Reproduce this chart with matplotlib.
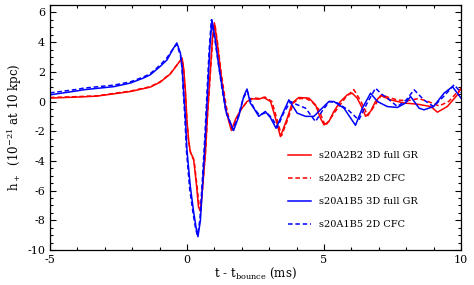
import numpy as np
import matplotlib
matplotlib.use('Agg')
import matplotlib.pyplot as plt
from matplotlib.ticker import MultipleLocator

plt.rcParams['font.family'] = 'DejaVu Serif'
plt.rcParams['mathtext.fontset'] = 'dejavuserif'
plt.rcParams['axes.unicode_minus'] = False

# s20A2B2 3D full GR (red solid)
t_a2b2_3d = [-5, -4, -3.3, -2.07, -1.34, -0.98, -0.61, -0.31, -0.18, -0.12, -0.06, 0, 0.06, 0.12,
             0.24, 0.34, 0.42, 0.49, 0.55, 0.67, 0.75, 0.85, 0.93, 1.0, 1.1, 1.22, 1.28, 1.4, 1.52,
             1.62, 1.77, 1.95, 2.19, 2.38, 2.62, 2.8, 3.05, 3.23, 3.41, 3.66, 3.84, 4.08, 4.45, 4.69,
             4.87, 5.0, 5.18, 5.36, 5.6, 5.85, 6.03, 6.21, 6.4, 6.52, 6.7, 6.88, 7.07, 7.43, 7.92,
             8.41, 8.9, 9.14, 9.5, 9.87, 10]
h_a2b2_3d = [0.23, 0.3, 0.36, 0.67, 0.97, 1.3, 1.85, 2.6, 2.93, 2.2, 0.8, -1.3, -2.6, -3.4,
             -3.85, -5.5, -7.1, -7.4, -6.2, -3.5, -0.8, 2.0, 4.3, 5.3, 4.0, 2.2, 1.24, -0.34, -1.3,
             -1.95, -1.2, -0.6, 0.0, 0.18, 0.16, 0.27, 0.0, -1.12, -2.36, -1.12, -0.1, 0.27, 0.23, -0.22,
             -1.12, -1.57, -1.35, -0.67, 0.0, 0.45, 0.56, 0.23, -0.45, -1.0, -0.67, 0.0, 0.4, 0.11, -0.1,
             -0.18, -0.34, -0.72, -0.34, 0.45, 0.9]

# s20A2B2 2D CFC (red dashed)
t_a2b2_2d = [-5, -4, -3.3, -2.07, -1.34, -0.98, -0.61, -0.31, -0.18, -0.12, -0.06, 0, 0.06, 0.14,
             0.26, 0.36, 0.44, 0.5, 0.56, 0.68, 0.76, 0.86, 0.94, 1.02, 1.12, 1.24, 1.3, 1.43, 1.55,
             1.65, 1.8, 1.98, 2.2, 2.4, 2.65, 2.85, 3.1, 3.27, 3.45, 3.7, 3.88, 4.1, 4.35, 4.55,
             4.8, 5.05, 5.4, 5.8, 6.09, 6.35, 6.6, 6.88, 7.1, 7.4, 7.7, 8.05, 8.45, 8.8, 9.2, 9.55,
             9.85, 10]
h_a2b2_2d = [0.27, 0.33, 0.38, 0.7, 1.0, 1.33, 1.88, 2.6, 2.85, 2.1, 0.6, -1.4, -2.7, -3.5,
             -4.0, -5.6, -7.0, -7.3, -6.0, -3.3, -0.6, 2.1, 4.3, 5.2, 3.9, 2.0, 1.3, -0.3, -1.3,
             -1.9, -1.2, -0.5, 0.0, 0.25, 0.2, 0.3, 0.0, -1.1, -2.3, -1.1, -0.1, 0.2, 0.2, 0.0,
             -0.5, -1.65, -0.7, 0.3, 0.8, 0.0, -0.95, -0.2, 0.45, 0.25, 0.1, 0.05, 0.2, 0.0, -0.3, 0.0,
             0.6, 0.85]

# s20A1B5 3D full GR (blue solid)
t_a1b5_3d = [-5, -4, -3.78, -2.68, -2.07, -1.59, -1.34, -0.98, -0.73, -0.49, -0.37, -0.24, -0.18,
             -0.12, -0.06, 0, 0.12, 0.24, 0.34, 0.4, 0.49, 0.58, 0.67, 0.75, 0.83, 0.91, 1.03, 1.16,
             1.28, 1.44, 1.7, 1.89, 2.07, 2.19, 2.31, 2.44, 2.62, 2.86, 3.05, 3.25, 3.47, 3.72, 4.02,
             4.33, 4.63, 4.87, 5.18, 5.36, 5.73, 6.15, 6.4, 6.7, 6.95, 7.31, 7.68, 7.98, 8.16, 8.47,
             8.65, 9.0, 9.38, 9.69, 10]
h_a1b5_3d = [0.45, 0.72, 0.79, 1.0, 1.24, 1.58, 1.8, 2.36, 2.8, 3.6, 3.94, 3.26, 2.36,
             0.6, -1.0, -3.3, -5.7, -7.4, -8.6, -9.1, -8.0, -5.3, -2.4, 0.6, 3.5, 5.5, 4.2, 2.4,
             1.0, -0.8, -1.95, -1.0, 0.34, 0.84, -0.1, -0.45, -1.0, -0.67, -1.1, -1.8, -0.9, 0.11, -0.78,
             -1.0, -1.0, -0.56, 0.0, 0.0, -0.45, -1.6, -0.45, 0.56, 0.0, -0.34, -0.4, -0.1, 0.34, -0.45,
             -0.56, -0.34, 0.56, 1.0, 0.23]

# s20A1B5 2D CFC (blue dashed)
t_a1b5_2d = [-5, -4, -3.78, -2.68, -2.07, -1.59, -1.34, -0.98, -0.73, -0.49, -0.37, -0.24, -0.18,
             -0.14, -0.08, -0.02, 0.1, 0.22, 0.32, 0.38, 0.47, 0.56, 0.65, 0.73, 0.81, 0.89, 1.0, 1.14,
             1.26, 1.42, 1.68, 1.87, 2.05, 2.2, 2.33, 2.46, 2.64, 2.9, 3.1, 3.3, 3.52, 3.78, 4.0,
             4.33, 4.69, 4.95, 5.2, 5.5, 5.9, 6.27, 6.55, 6.88, 7.1, 7.31, 7.68, 8.0, 8.29, 8.65,
             9.0, 9.4, 9.75, 10]
h_a1b5_2d = [0.58, 0.82, 0.9, 1.1, 1.32, 1.65, 1.88, 2.45, 2.95, 3.6, 3.85, 3.1, 2.2,
             0.8, -1.0, -3.3, -5.9, -7.5, -8.6, -9.0, -8.0, -5.3, -2.4, 0.6, 3.5, 5.5, 4.4, 2.6,
             1.1, -0.7, -1.9, -1.0, 0.2, 0.7, 0.0, -0.5, -0.9, -0.75, -1.1, -1.75, -0.8, 0.0, -0.2,
             -0.45, -1.35, -0.6, 0.0, -0.1, -0.6, -1.24, -0.2, 0.9, 0.5, 0.23, -0.34, 0.1, 0.79, 0.1,
             -0.34, 0.4, 1.13, 0.6]

labels = ['s20A2B2 3D full GR', 's20A2B2 2D CFC', 's20A1B5 3D full GR', 's20A1B5 2D CFC']

fig = plt.figure(figsize=(4.74, 2.85), dpi=100)
ax = fig.add_axes([0.1055, 0.1228, 0.867, 0.8597])

lw = 1.1
dash = (0, (3.0, 1.8))
ax.plot(t_a2b2_3d, h_a2b2_3d, color='#ff0000', lw=lw, label=labels[0])
ax.plot(t_a2b2_2d, h_a2b2_2d, color='#ff0000', lw=lw, ls=dash, label=labels[1])
ax.plot(t_a1b5_3d, h_a1b5_3d, color='#0000ff', lw=lw, label=labels[2])
ax.plot(t_a1b5_2d, h_a1b5_2d, color='#0000ff', lw=lw, ls=dash, label=labels[3])

ax.set_xlim(-5, 10)
ax.set_ylim(-10, 6.5)
ax.xaxis.set_major_locator(MultipleLocator(5))
ax.xaxis.set_minor_locator(MultipleLocator(1))
ax.yaxis.set_major_locator(MultipleLocator(2))
ax.yaxis.set_minor_locator(MultipleLocator(0.5))
ax.tick_params(which='both', direction='in', top=True, right=True, labelsize=8, width=0.8)
ax.tick_params(which='major', length=4.5)
ax.tick_params(which='minor', length=2.5)
for s in ax.spines.values():
    s.set_linewidth(0.9)

ax.set_xlabel(r't - t$_{\rm bounce}$ (ms)', fontsize=8.5, labelpad=1)
ax.set_ylabel(r'h$_+$  (10$^{-21}$ at 10 kpc)', fontsize=8.5, labelpad=2)

ax.legend(loc='upper left', bbox_to_anchor=(0.579, 0.403), frameon=False, fontsize=7,
          borderpad=0, borderaxespad=0, handlelength=2.35, handletextpad=0.8, labelspacing=1.43)

fig.savefig('out.png', dpi=100)
